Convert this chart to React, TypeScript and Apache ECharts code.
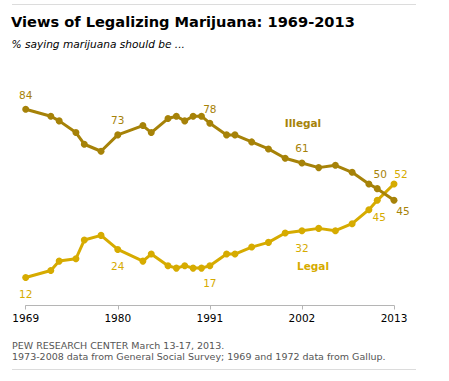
import React, { useEffect, useRef } from "react";
import * as echarts from "echarts";

const years = [1969, 1972, 1973, 1975, 1976, 1978, 1980, 1983, 1984, 1986, 1987, 1988, 1989, 1990, 1991, 1993, 1994, 1996, 1998, 2000, 2002, 2004, 2006, 2008, 2010, 2011, 2013];
const illegal = [84, 81, 79, 74, 69, 66, 73, 77, 74, 80, 81, 79, 81, 81, 78, 73, 73, 70, 67, 63, 61, 59, 60, 57, 52, 50, 45];
const legal = [12, 15, 19, 20, 28, 30, 24, 19, 22, 17, 16, 17, 16, 16, 17, 22, 22, 25, 27, 31, 32, 33, 32, 35, 41, 45, 52];
const tickYears = [1969, 1980, 1991, 2002, 2013];
const illegalLabelYears = [1969, 1980, 1991, 2002, 2011, 2013];
const legalLabelYears = [1969, 1980, 1991, 2002, 2011, 2013];

const title = "Views of Legalizing Marijuana: 1969-2013";
const subtitle = "% saying marijuana should be ...";
const source1 = "PEW RESEARCH CENTER March 13-17, 2013.";
const source2 = "1973-2008 data from General Social Survey; 1969 and 1972 data from Gallup.";

const ILLEGAL = "#a68208";
const LEGAL = "#d6ab00";
const FONT = "'DejaVu Sans', Verdana, sans-serif";

function labelOffset(kind: "illegal" | "legal", year: number): number[] {
  if (kind === "illegal") {
    if (year === 2013) return [9, 11];
    if (year === 2011) return [3, -15];
    return [0, -14.5];
  }
  if (year === 2013) return [7, -10];
  if (year === 2011) return [2, 16.5];
  return [0, 17];
}

function buildData(values: number[], labelYears: number[], kind: "illegal" | "legal", color: string) {
  return years.map((y, i) => {
    const item: any = { value: [y, values[i]] };
    if (labelYears.includes(y)) {
      item.label = {
        show: true,
        position: "inside",
        offset: labelOffset(kind, y),
        formatter: String(values[i]),
        color,
        fontFamily: FONT,
        fontSize: 10.5,
      };
    }
    return item;
  });
}

export default function App() {
  const ref = useRef<HTMLDivElement>(null);
  useEffect(() => {
    if (!ref.current) return;
    const chart = echarts.init(ref.current, undefined, { renderer: "svg" });
    chart.setOption({
      animation: false,
      backgroundColor: "#fff",
      grid: { left: 25.7, right: 55, top: 71.8, bottom: 75.5 },
      xAxis: {
        type: "value",
        min: 1969,
        max: 2013,
        interval: 11,
        splitLine: { show: false },
        axisLine: { show: true, lineStyle: { color: "#b5b5b5", width: 1 } },
        axisTick: { show: true, length: 4, lineStyle: { color: "#b5b5b5" } },
        axisLabel: {
          margin: 7,
          color: "#000",
          fontFamily: FONT,
          fontSize: 10.5,
          formatter: (v: number) => (tickYears.includes(v) ? String(v) : ""),
        },
      },
      yAxis: { type: "value", min: 0, max: 100, show: false, splitLine: { show: false } },
      series: [
        {
          name: "Illegal",
          type: "line",
          data: buildData(illegal, illegalLabelYears, "illegal", ILLEGAL),
          symbol: "circle",
          symbolSize: 7,
          itemStyle: { color: ILLEGAL },
          lineStyle: { color: ILLEGAL, width: 3 },
          label: { show: false },
          z: 3,
        },
        {
          name: "Legal",
          type: "line",
          data: buildData(legal, legalLabelYears, "legal", LEGAL),
          symbol: "circle",
          symbolSize: 7,
          itemStyle: { color: LEGAL },
          lineStyle: { color: LEGAL, width: 3 },
          label: { show: false },
          z: 2,
        },
      ],
      graphic: [
        { type: "line", shape: { x1: 12, y1: 4.5, x2: 416, y2: 4.5 }, style: { stroke: "#dcdcdc", lineWidth: 1 } },
        { type: "line", shape: { x1: 12, y1: 369.5, x2: 416, y2: 369.5 }, style: { stroke: "#dcdcdc", lineWidth: 1 } },
        { type: "text", x: 11, y: 21, style: { text: title, font: `bold 14.6px ${FONT}`, fill: "#000", verticalAlign: "middle" } },
        { type: "text", x: 11.5, y: 44, style: { text: subtitle, font: `italic 10.6px ${FONT}`, fill: "#000", verticalAlign: "middle" } },
        { type: "text", x: 303, y: 123.3, style: { text: "Illegal", font: `bold 10.5px ${FONT}`, fill: ILLEGAL, align: "center", verticalAlign: "middle" } },
        { type: "text", x: 313, y: 266, style: { text: "Legal", font: `bold 10.5px ${FONT}`, fill: LEGAL, align: "center", verticalAlign: "middle" } },
        { type: "text", x: 12, y: 345.5, style: { text: source1, font: `9.5px ${FONT}`, fill: "#555", verticalAlign: "middle" } },
        { type: "text", x: 12, y: 356.2, style: { text: source2, font: `9.5px ${FONT}`, fill: "#555", verticalAlign: "middle" } },
      ],
    });
    return () => chart.dispose();
  }, []);
  return <div ref={ref} style={{ width: 449, height: 381, position: "absolute", left: 0, top: 0 }} />;
}
